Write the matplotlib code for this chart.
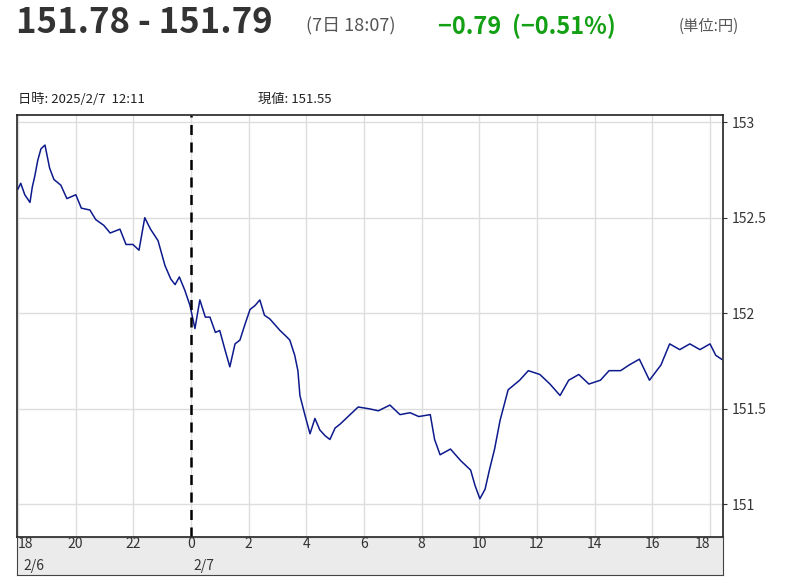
import matplotlib.pyplot as plt

plt.rcParams['font.family'] = ['Noto Sans CJK JP', 'DejaVu Sans']

# hours since 2/6 18:00 and USD/JPY price
hours = [0, 0.1, 0.24, 0.42, 0.5, 0.59, 0.69, 0.8, 0.94, 1.1, 1.25, 1.49, 1.7, 2.01, 2.2, 2.5, 2.7,
         2.98, 3.2, 3.54, 3.75, 3.99, 4.2, 4.4, 4.6, 4.86, 5.1, 5.3, 5.45, 5.6, 5.79, 5.97, 6.14,
         6.31, 6.5, 6.66, 6.85, 7.0, 7.18, 7.35, 7.53, 7.7, 7.87, 8.05, 8.22, 8.39, 8.55, 8.74,
         9.09, 9.3, 9.43, 9.6, 9.71, 9.78, 9.95, 10.13, 10.3, 10.47, 10.65, 10.82, 11.0, 11.17,
         11.52, 11.8, 12.2, 12.5, 12.9, 13.25, 13.6, 13.9, 14.3, 14.45, 14.64, 15.0, 15.35,
         15.7, 15.85, 16.02, 16.2, 16.35, 16.53, 16.72, 17.0, 17.4, 17.7, 18.1, 18.45, 18.8,
         19.1, 19.45, 19.8, 20.2, 20.5, 20.9, 21.2, 21.55, 21.9, 22.3, 22.6, 22.95, 23.3,
         23.65, 24.0, 24.2, 24.4]
prices = [152.65, 152.68, 152.62, 152.58, 152.66, 152.72, 152.80, 152.86, 152.88, 152.76,
          152.70, 152.67, 152.60, 152.62, 152.55, 152.54, 152.49, 152.46, 152.42, 152.44, 152.36,
          152.36, 152.33, 152.50, 152.44, 152.38, 152.25, 152.18, 152.15, 152.19, 152.12, 152.04,
          151.92, 152.07, 151.98, 151.98, 151.90, 151.91, 151.81, 151.72, 151.84, 151.86, 151.94,
          152.02, 152.04, 152.07, 151.99, 151.97, 151.91, 151.88, 151.86, 151.78, 151.70, 151.57,
          151.47, 151.37, 151.45, 151.39, 151.36, 151.34, 151.40, 151.42, 151.47, 151.51, 151.50,
          151.49, 151.52, 151.47, 151.48, 151.46, 151.47, 151.34, 151.26, 151.29, 151.23, 151.18,
          151.10, 151.03, 151.08, 151.18, 151.29, 151.44, 151.60, 151.65, 151.70, 151.68, 151.63,
          151.57, 151.65, 151.68, 151.63, 151.65, 151.70, 151.70, 151.73, 151.76, 151.65, 151.73,
          151.84, 151.81, 151.84, 151.81, 151.84, 151.78, 151.76]

tick_pos = [0, 2, 4, 6, 8, 10, 12, 14, 16, 18, 20, 22, 24]
tick_lbl = ['18', '20', '22', '0', '2', '4', '6', '8', '10', '12', '14', '16', '18']
y_ticks = [151, 151.5, 152, 152.5, 153]
y_lbl = ['151', '151.5', '152', '152.5', '153']

fig = plt.figure(figsize=(8, 5.83), dpi=100)
ax = fig.add_axes([0.02125, 0.0789, 0.8825, 0.7238])
ax.plot(hours, prices, color='#0d1a8c', lw=1.1)
ax.set_xlim(-0.03, 24.45)
ax.set_ylim(150.83, 153.037)
ax.set_xticks(tick_pos)
ax.set_xticklabels([])
ax.tick_params(axis='x', length=0)
ax.set_yticks(y_ticks)
ax.set_yticklabels(y_lbl)
ax.yaxis.tick_right()
ax.tick_params(axis='y', length=3, labelsize=10, colors='#333333', labelcolor='#333333')
ax.grid(True, color='#dddddd', lw=1)
ax.axvline(6, color='black', ls='--', lw=1.8, dashes=(4, 3))
for s in ax.spines.values():
    s.set_linewidth(1.2)
    s.set_color('#222222')

band = fig.add_axes([0.02125, 0.0137, 0.8825, 0.0652])
band.set_facecolor('#ebebeb')
band.set_xlim(-0.03, 24.45)
band.set_ylim(0, 1)
band.set_xticks([])
band.set_yticks([])
for p, l in zip(tick_pos, tick_lbl):
    band.text(p, 0.82, l, ha='left' if p == 0 else ('right' if p == 24 else 'center'),
              va='center', fontsize=10, color='#333333')
band.text(0.2, 0.25, '2/6', ha='left', va='center', fontsize=10, color='#333333')
band.text(6.1, 0.25, '2/7', ha='left', va='center', fontsize=10, color='#333333')
for s in band.spines.values():
    s.set_color('#444444')

fig.text(0.02, 0.962, '151.78 - 151.79', fontsize=25, fontweight='bold', color='#333333', va='center')
fig.text(0.383, 0.955, '(7日 18:07)', fontsize=13, color='#555555', va='center')
fig.text(0.548, 0.955, '−0.79  (−0.51%)', fontsize=17, fontweight='bold', color='#14a014', va='center')
fig.text(0.848, 0.955, '(単位:円)', fontsize=11, color='#555555', va='center')
fig.text(0.022, 0.83, '日時: 2025/2/7  12:11', fontsize=9.5, color='#222222', va='center')
fig.text(0.322, 0.83, '現値: 151.55', fontsize=9.5, color='#222222', va='center')

fig.savefig('out.png', dpi=100)
